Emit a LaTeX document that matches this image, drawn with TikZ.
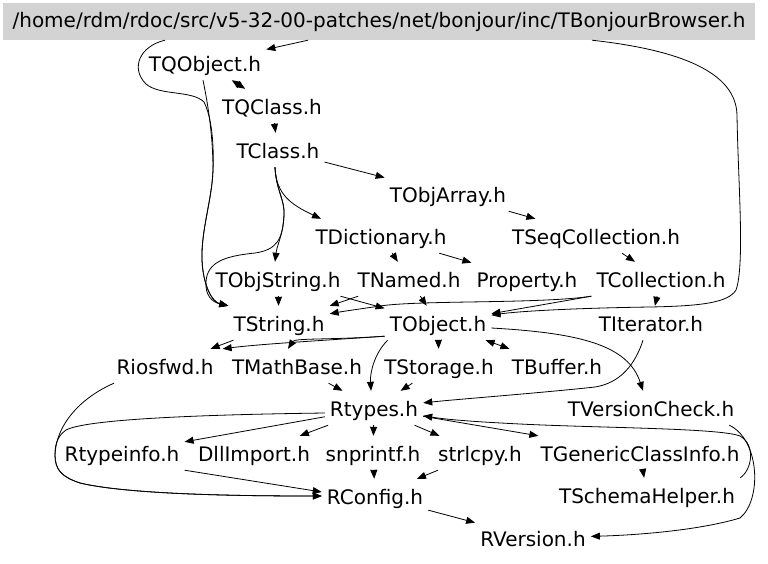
\documentclass[tikz,border=0pt]{standalone}
\usepackage{fontspec}
\setmainfont{DejaVu Sans}
\usetikzlibrary{arrows.meta}
\definecolor{hdrgray}{RGB}{211,211,211}
\begin{document}
\begin{tikzpicture}[x=1pt,y=-1pt,
  file/.style={anchor=base, inner xsep=5pt, inner ysep=4pt, text height=21pt, text depth=5pt,
               font=\fontsize{20}{24}\selectfont},
  dep/.style={draw=black, line width=0.8pt, -{Triangle[length=9pt,width=7pt]}},
  dep2/.style={draw=black, line width=0.8pt, {Triangle[length=9pt,width=7pt]}-{Triangle[length=9pt,width=7pt]}}]
\useasboundingbox (0,0) rectangle (768,563);

% root file
\node[fill=hdrgray, minimum width=752pt, minimum height=37pt, inner sep=0pt,
      text height=16pt, text depth=4pt, font=\fontsize{20}{24}\selectfont]
  (hdr) at (379,21.5) {/home/rdm/rdoc/src/v5-32-00-patches/net/bonjour/inc/TBonjourBrowser.h};

% included headers
\node[file] (tqobj)      at (205,71)  {TQObject.h};
\node[file] (tqclass)    at (272,114) {TQClass.h};
\node[file] (tclass)     at (278,158) {TClass.h};
\node[file] (tobjarray)  at (448,202) {TObjArray.h};
\node[file] (tdict)      at (381,244) {TDictionary.h};
\node[file] (tseq)       at (596,244) {TSeqCollection.h};
\node[file] (tobjstring) at (278,287) {TObjString.h};
\node[file] (tnamed)     at (409,287) {TNamed.h};
\node[file] (prop)       at (527,287) {Property.h};
\node[file] (tcoll)      at (661,287) {TCollection.h};
\node[file] (tstring)    at (279,331) {TString.h};
\node[file] (tobject)    at (438,331) {TObject.h};
\node[file] (titer)      at (651,331) {TIterator.h};
\node[file] (riosfwd)    at (165,374) {Riosfwd.h};
\node[file] (tmathbase)  at (297,374) {TMathBase.h};
\node[file] (tstorage)   at (439,374) {TStorage.h};
\node[file] (tbuffer)    at (557,374) {TBuffer.h};
\node[file] (rtypes)     at (374,416) {Rtypes.h};
\node[file] (tvcheck)    at (651,416) {TVersionCheck.h};
\node[file] (rtypeinfo)  at (122,461) {Rtypeinfo.h};
\node[file] (dllimport)  at (254,461) {DllImport.h};
\node[file] (snprintf)   at (373,461) {snprintf.h};
\node[file] (strlcpy)    at (480,461) {strlcpy.h};
\node[file] (tgeneric)   at (640,461) {TGenericClassInfo.h};
\node[file] (rconfig)    at (375,504) {RConfig.h};
\node[file] (tschema)    at (647,503) {TSchemaHelper.h};
\node[file] (rversion)   at (533,546) {RVersion.h};

% include edges
\draw[dep] ([xshift=-71pt]hdr.south) -- (tqobj);
\draw[dep] ([xshift=-214pt]hdr.south) .. controls (140,46) and (130,68) .. (146,84)
  .. controls (160,96) and (192,90) .. (204,102) .. controls (212,118) and (214,145) .. (213,170)
  .. controls (212,200) and (201,230) .. (202,260) .. controls (203,285) and (212,302) .. (tstring.north west);
\draw[dep] ([xshift=-2pt]tqobj.south) .. controls (206,95) and (213,130) .. (213,170)
  .. controls (212,200) and (201,230) .. (202,260) .. controls (203,285) and (212,302) .. (tstring.north west);
\draw[dep] ([xshift=213pt]hdr.south) .. controls (680,50) and (736,72) .. (737,115)
  .. controls (738,180) and (745,265) .. (736,290) .. controls (728,303) and (700,306) .. (650,307)
  .. controls (580,308) and (520,311) .. (tobject);

\draw[dep2] (tqobj) -- (tqclass);
\draw[dep] (tqclass) -- (tclass);

\draw[dep] ([xshift=-3pt]tclass.south) .. controls (276,190) and (285,200) .. (284,215)
  .. controls (283,240) and (276,250) .. (255,253) .. controls (225,256) and (207,262) .. (206,282)
  .. controls (205,295) and (212,302) .. (tstring.north west);
\draw[dep] ([xshift=-3pt]tclass.south) .. controls (276,190) and (285,200) .. (284,215)
  .. controls (283,235) and (277,245) .. ([xshift=-3pt]tobjstring.north);
\draw[dep] ([xshift=-3pt]tclass.south) .. controls (276,195) and (292,205) .. ([xshift=-60pt]tdict.north);
\draw[dep] (tclass) -- (tobjarray);

\draw[dep] (tobjarray) -- (tseq);
\draw[dep] (tdict) -- (tnamed);
\draw[dep] (tdict) -- (prop);
\draw[dep] (tseq) -- (tcoll);

\draw[dep] (tobjstring) -- (tstring);
\draw[dep] (tobjstring) -- (tobject);
\draw[dep] (tnamed) -- (tstring);
\draw[dep] (tnamed) -- (tobject);
\draw[dep] (tcoll.south west) .. controls (540,304) and (420,300) .. (380,306)
  .. controls (360,309) and (345,311) .. (tstring);
\draw[dep] (tcoll.south west) -- (tobject);
\draw[dep] (tcoll) -- (titer);

\draw[dep] (tstring) -- (riosfwd);
\draw[dep] ([yshift=4pt]tobject.south west) .. controls (330,340) and (295,338) .. ([xshift=-9pt]tmathbase.north);
\draw[dep] ([yshift=4pt]tobject.south west) .. controls (330,340) and (260,344) .. ([xshift=4pt]riosfwd.north east);
\draw[dep] ([xshift=3pt]tobject.south west) .. controls (373,355) and (370,375) .. ([xshift=-3pt]rtypes.north);
\draw[dep] (tobject) -- (tstorage);
\draw[dep2] (tobject) -- (tbuffer);
\draw[dep] ([yshift=-5pt]tobject.east) .. controls (580,333) and (628,345) .. ([xshift=-8pt]tvcheck.north);
\draw[dep] ([xshift=-8pt]titer.south) .. controls (635,365) and (620,383) .. (595,387)
  .. controls (540,393) and (460,399) .. (rtypes);

\draw[dep] (tstorage) -- (rtypes);
\draw[dep] (tmathbase) -- (rtypes);

\draw[dep] (rtypes) -- (rtypeinfo);
\draw[dep] (rtypes) -- (dllimport);
\draw[dep] (rtypes) -- (snprintf);
\draw[dep] (rtypes) -- (strlcpy);
\draw[dep] (rtypes) -- (tgeneric);
\draw[dep] ([yshift=-5pt]rtypes.west) .. controls (250,414) and (90,417) .. (66,430)
  .. controls (56,437) and (55,447) .. (55,455) .. controls (55,470) and (62,477) .. (80,483)
  .. controls (130,495) and (250,496) .. (rconfig);
\draw[dep] ([xshift=-51pt]riosfwd.south) .. controls (80,398) and (56,425) .. (55,455)
  .. controls (55,470) and (62,477) .. (80,483) .. controls (130,495) and (250,496) .. (rconfig);

\draw[dep] (rtypeinfo.south east) -- ([yshift=4pt]rconfig.west);
\draw[dep] (snprintf) -- (rconfig);
\draw[dep] (strlcpy) -- (rconfig);
\draw[dep] (tgeneric) -- (tschema);
\draw[dep] (rconfig) -- (rversion);

\draw[dep] (tschema.north east) .. controls (752,470) and (756,445) .. (740,436)
  .. controls (720,428) and (600,428) .. (520,424) .. controls (480,422) and (450,420) .. (rtypes);
\draw[dep] ([xshift=-10pt]tvcheck.south east) .. controls (760,440) and (762,500) .. (740,518)
  .. controls (700,530) and (640,535) .. (rversion);
\end{tikzpicture}
\end{document}
